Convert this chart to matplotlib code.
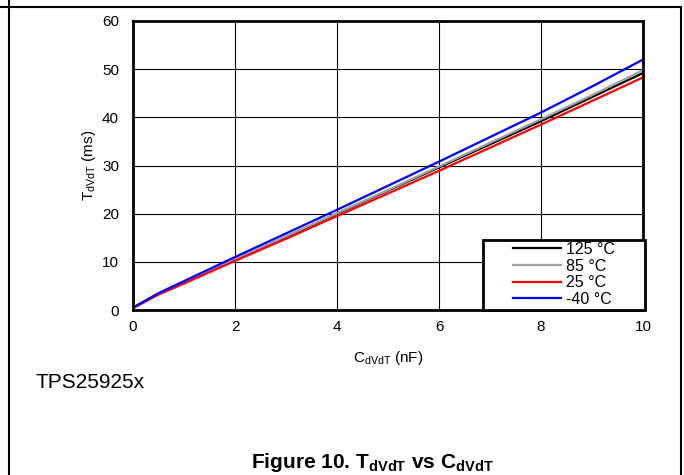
import matplotlib
matplotlib.use('Agg')
import matplotlib.pyplot as plt
from matplotlib.lines import Line2D
from matplotlib.patches import Rectangle

plt.rcParams['font.family'] = ['Liberation Sans', 'DejaVu Sans']

# C_dVdT (nF)
cap = [0, 0.5, 1, 2, 3, 4, 5, 6, 7, 8, 9, 10]
# T_dVdT (ms) for each temperature
t_125 = [0.5, 3.3, 5.7, 10.5, 15.2, 20.0, 24.8, 29.6, 34.4, 39.2, 44.2, 49.2]
t_85 = [0.5, 3.3, 5.8, 10.6, 15.3, 20.1, 24.9, 29.8, 34.7, 39.6, 44.6, 49.8]
t_25 = [0.4, 3.2, 5.5, 10.2, 14.8, 19.5, 24.2, 28.9, 33.7, 38.5, 43.4, 48.3]
t_m40 = [0.5, 3.5, 6.0, 11.0, 15.9, 20.8, 25.8, 30.8, 35.9, 41.0, 46.4, 52.0]

series = [
    (t_125, 'black', '125 °C'),
    (t_85, '#a0a0a0', '85 °C'),
    (t_25, 'red', '25 °C'),
    (t_m40, 'blue', '-40 °C'),
]

fig = plt.figure(figsize=(6.84, 4.75), dpi=100)
ax = fig.add_axes([133/684, 1 - 310/475, 510/684, 289/475])

for vals, col, lab in series:
    ax.plot(cap, vals, color=col, linewidth=1.6, label=lab)

ax.set_xlim(0, 10)
ax.set_ylim(0, 60)
ax.set_xticks(range(0, 11, 2))
ax.set_yticks(range(0, 61, 10))
ax.grid(True, color='black', linewidth=0.8)
ax.tick_params(length=0, labelsize=11, pad=7)
ax.tick_params(axis='y', pad=10)
for sp in ax.spines.values():
    sp.set_linewidth(2)
    sp.set_zorder(5)

ax.set_xlabel('C$_{\\mathregular{dVdT}}$ (nF)', fontsize=11, labelpad=11)
ax.set_ylabel('T$_{\\mathregular{dVdT}}$ (ms)', fontsize=11, labelpad=3)

# legend box drawn separately (wide left margin like the original)
box = Rectangle((0.686, 0), 0.318, 0.242, transform=ax.transAxes,
                facecolor='white', edgecolor='black', linewidth=2,
                zorder=6, clip_on=False)
ax.add_patch(box)
leg = ax.legend(loc='upper left', bbox_to_anchor=(0.745, 0.235), fontsize=11.5,
                frameon=False, handlelength=3.0, handletextpad=0.3,
                labelspacing=0.1, borderpad=0, borderaxespad=0)
leg.set_zorder(7)

fig.text(35/684, 1 - 383/475, 'TPS25925x', fontsize=15, va='center', ha='left')
fig.text(372/684, 1 - 462/475, 'Figure 10. T$_{\\mathregular{dVdT}}$ vs C$_{\\mathregular{dVdT}}$',
         fontsize=15, fontweight='bold', ha='center', va='center')

# page frame lines
fig.add_artist(Line2D([0, 681/684], [1 - 7/475, 1 - 7/475], color='black', linewidth=1.5))
fig.add_artist(Line2D([9/684, 9/684], [0, 1], color='black', linewidth=1.5))
fig.add_artist(Line2D([681/684, 681/684], [0, 1 - 7/475], color='black', linewidth=1.5))

fig.savefig('out.png', dpi=100)
